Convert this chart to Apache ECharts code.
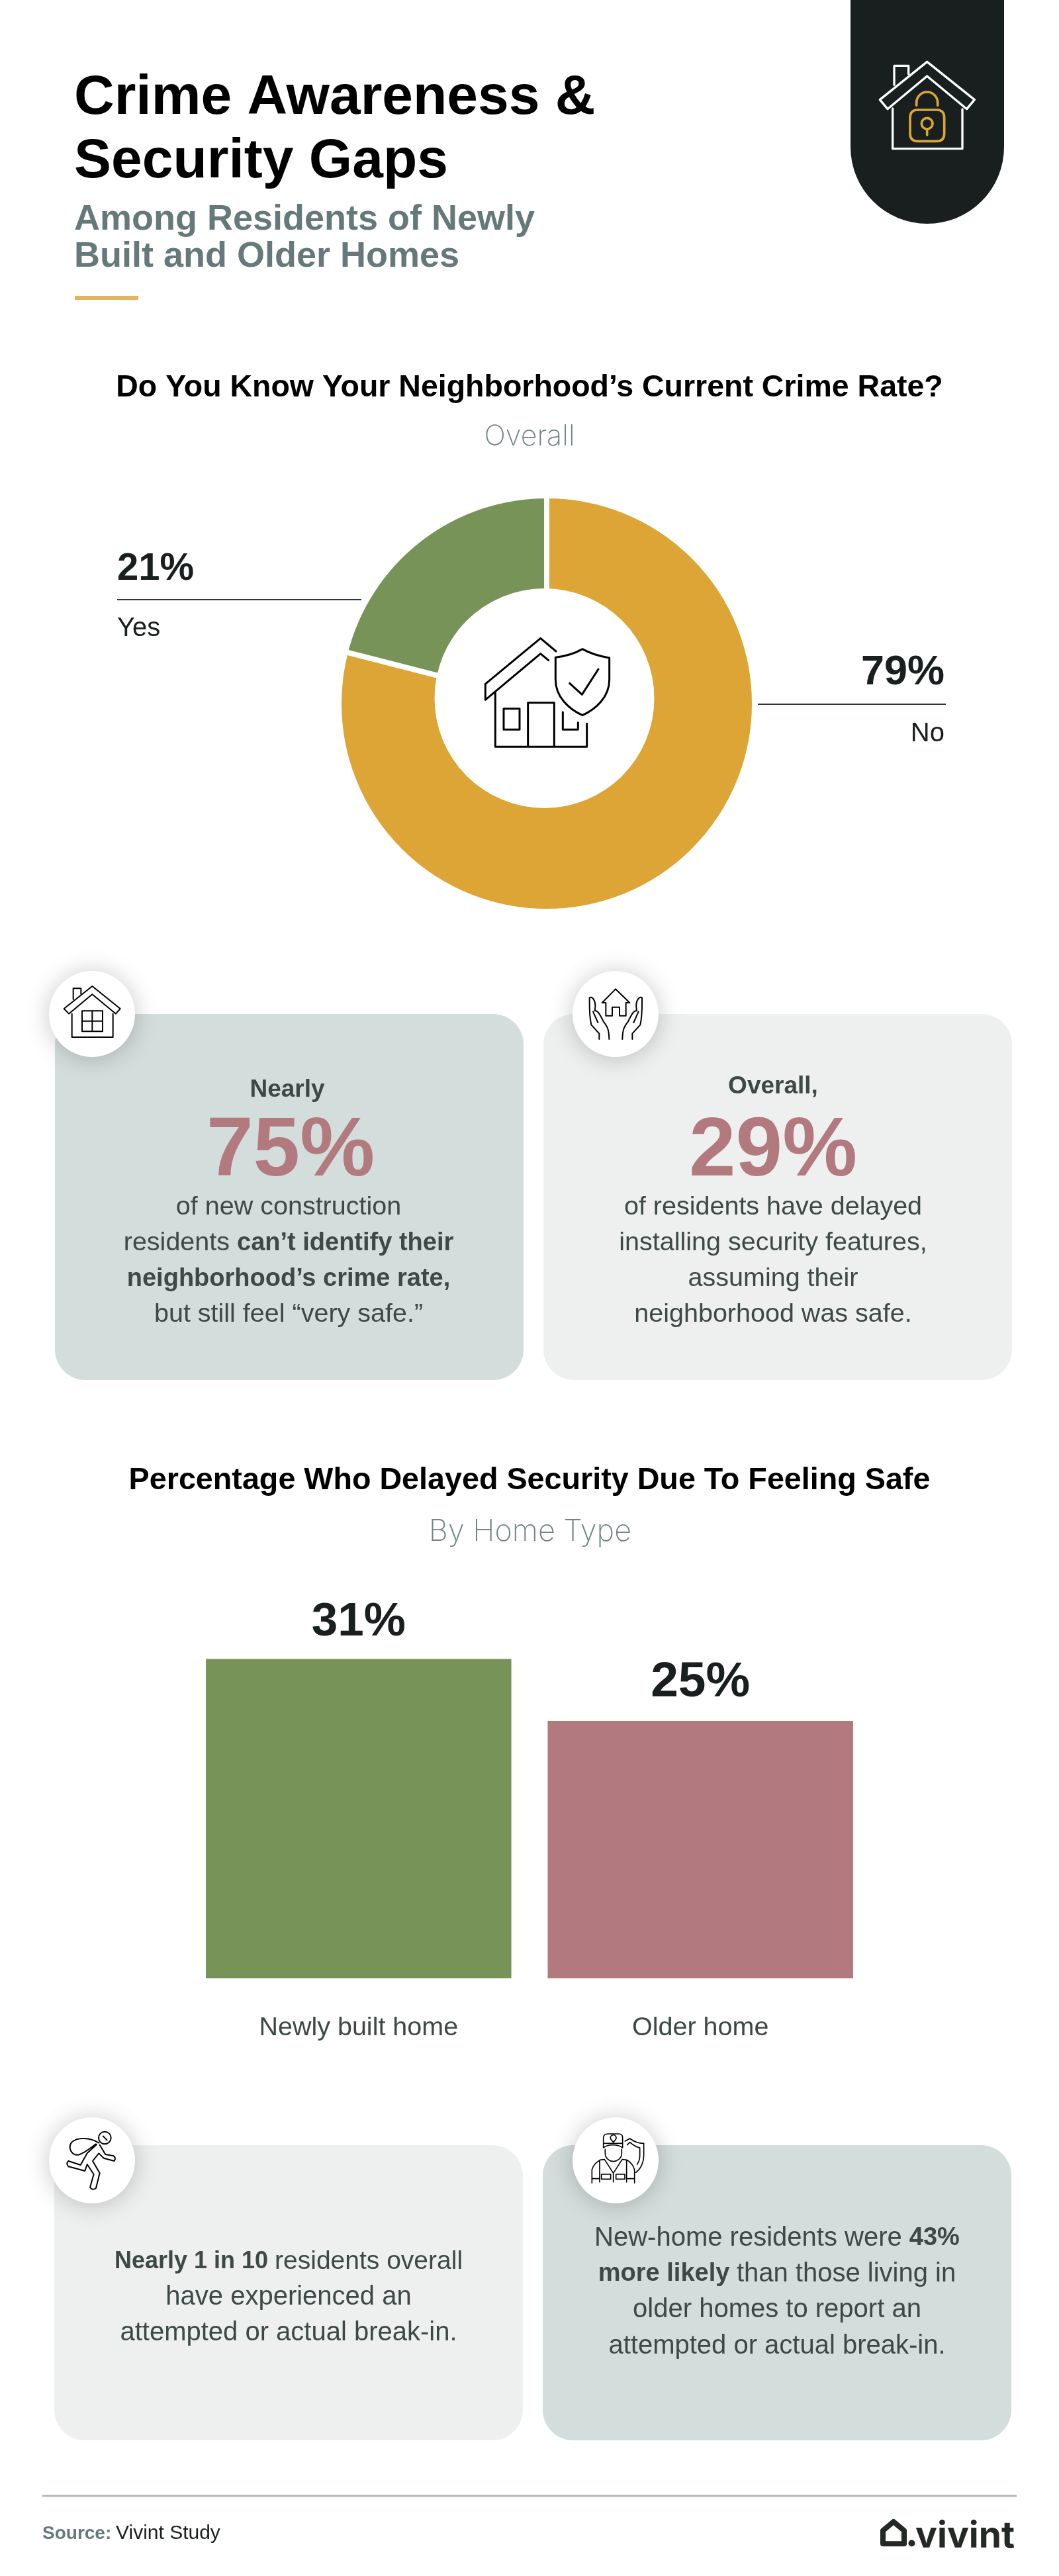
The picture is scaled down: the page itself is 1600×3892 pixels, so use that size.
<!DOCTYPE html>
<html>
<head>
<meta charset="utf-8">
<title>Crime Awareness & Security Gaps</title>
<script src="https://cdn.jsdelivr.net/npm/echarts@6/dist/echarts.min.js"></script>
<style>
html, body { margin: 0; padding: 0; background: #fff; }
#chart-container { width: 1600px; height: 3892px; }
</style>
</head>
<body>
<div id="chart-container"></div>
<script>
// chart data
const donutCategories = ['No', 'Yes'];
const donutValues = [79, 21];
const barCategories = ['Newly built home', 'Older home'];
const barValues = [31, 25];
const statValues = [75, 29];

const FONT = '"Liberation Sans", Arial, sans-serif';
const INK = '#181f1e';
const BODY = '#3c4947';
const SAGE = '#66797a';
const ROSE = '#b27a7e';
const GOLD = '#dca535';
const GREEN = '#779357';
const CARD_DARK = '#d3dddb';
const CARD_LIGHT = '#eef0ef';

// icons are traced in the 3x zoom coordinates, so they get scale 1/3
const icons = {
    lockHouse: 'M333,385V298H398V335M482,280L697,452L662,494L482,345L303,494L268,452ZM326,492V674H642V495',
    lock: 'M440,498H525Q560,498 560,533V605Q560,640 525,640H440Q405,640 405,605V533Q405,498 440,498ZM434,478V465A48,48 0 0 1 530,465V478M507,560A25,25 0 1 1 457,560A25,25 0 1 1 507,560ZM482,585V612',
    shieldHouse: 'M480,192L410,133L160,340V412L410,203L446,233M205,380V625H620V520M243,452H315V547H243ZM353,625V425H472V625M511,468V547H580V515M600,182C560,205 520,215 478,220V320C478,400 540,455 600,482C660,455 722,400 722,320V222C680,215 640,205 600,182ZM542,337L598,388L672,273',
    windowHouse: 'M152,180V130H187V155M238,120L365,222L345,245L238,157L132,245L110,222ZM146,245V351H332V245M192,232H285V325H192ZM238,232V325M192,278H285',
    hands: 'M240,133L304,195H287V254H258V215H225V254H196V195H179ZM166,360V335L130,295C120,250 122,210 122,172C135,165 150,185 148,215L146,232C160,228 170,250 185,280C205,305 210,320 211,360M138,235L160,285M316,360V335L352,295C362,250 360,210 360,172C347,165 332,185 334,215L336,232C322,228 312,250 297,280C277,305 272,320 271,360M344,235L322,285',
    thief: 'M323,180A28,28 0 1 1 267,180A28,28 0 1 1 323,180ZM287,172L305,190M268,203C230,178 170,175 145,200C125,225 145,260 175,257C205,250 230,225 255,208M272,212L298,255L335,262Q347,270 338,285L290,272L268,250L240,285L272,340L255,408Q240,420 228,405L245,345L215,300L205,330L130,310Q118,297 130,285L185,303L215,250L258,210',
    guard: 'M185,225V180Q185,162 205,162H255Q272,162 272,180V225C250,208 205,208 185,225ZM185,205H272M230,200L218,185A13,13 0 1 1 242,185ZM193,232V250C193,275 215,287 230,287C245,287 268,275 268,250V232M283,195L305,183C320,195 345,205 368,205V260C368,290 355,320 332,337M293,212L305,200C318,212 335,222 350,225V260C350,275 345,290 338,300M133,385V325C140,300 155,290 170,280L190,278L230,340L270,278L290,280C310,290 320,305 326,325V385M168,282V380M290,282V380M230,340V380M176,345H218V367H176ZM242,345H282V367H242ZM133,365H168M290,365H326',
    logoHouse: 'M162,310V250L210,210L258,250V310Z'
};
Object.keys(icons).forEach(function (name) {
    echarts.graphic.registerShape(name, echarts.graphic.extendPath(icons[name]));
});

function icon(name, ox, oy, color, lineWidth) {
    return {
        type: name,
        x: ox, y: oy, scaleX: 1 / 3, scaleY: 1 / 3, z: 20,
        style: { fill: null, stroke: color, lineWidth: lineWidth, lineCap: 'round', lineJoin: 'round' }
    };
}

// zrender centres a line on y, so move up from the baseline by a fraction of the size
const BASELINE_SHIFT = 0.275;

function label(text, x, baseline, size, weight, color, align, family) {
    return {
        type: 'text', x: x, y: baseline - size * BASELINE_SHIFT, z: 10,
        style: {
            text: text, fill: color, font: weight + ' ' + size + 'px ' + (family || FONT),
            align: align || 'center', verticalAlign: 'middle'
        }
    };
}

function richLabel(text, x, baseline, normalSize, boldSize, color) {
    return {
        type: 'text', x: x, y: baseline - normalSize * BASELINE_SHIFT, z: 10,
        style: {
            text: text, align: 'center', verticalAlign: 'middle',
            rich: {
                n: { fontFamily: FONT, fontSize: normalSize, fontWeight: 400, fill: color },
                b: { fontFamily: FONT, fontSize: boldSize, fontWeight: 700, fill: color }
            }
        }
    };
}

function card(x, y, width, height, color) {
    return { type: 'rect', shape: { x: x, y: y, width: width, height: height, r: 46 }, style: { fill: color }, z: 1 };
}

function badge(cx, cy) {
    return {
        type: 'circle', shape: { cx: cx, cy: cy, r: 65 }, z: 5,
        style: { fill: '#fff', shadowBlur: 36, shadowColor: 'rgba(0,0,0,0.22)', shadowOffsetY: 2 }
    };
}

const graphics = [
    // header
    label('Crime Awareness &', 112, 172, 84, 700, '#000', 'left'),
    label('Security Gaps', 112, 268, 84, 700, '#000', 'left'),
    label('Among Residents of Newly', 112, 347, 54, 700, SAGE, 'left'),
    label('Built and Older Homes', 112, 403, 54, 700, SAGE, 'left'),
    { type: 'rect', shape: { x: 113, y: 447, width: 96, height: 6 }, style: { fill: '#e3b45f' } },
    {
        type: 'rect', shape: { x: 1285, y: -120, width: 232, height: 458, r: [0, 0, 116, 116] },
        style: { fill: INK }
    },
    icon('lockHouse', 1240, 0, '#fff', 10),
    icon('lock', 1240, 0, GOLD, 11),

    // donut section, the hole in the reference sits a little above the ring's centre
    label('Do You Know Your Neighborhood\u2019s Current Crime Rate?', 800, 599, 46.5, 700, '#000'),
    label('Overall', 800, 672, 43, 200, '#6f8483', 'center', 'Inter'),
    label(donutValues[1] + '%', 177, 876, 58, 700, INK, 'left'),
    { type: 'line', shape: { x1: 177, y1: 906, x2: 546, y2: 906 }, style: { stroke: '#2c3635', lineWidth: 2 } },
    label(donutCategories[1], 177, 961, 40, 400, INK, 'left'),
    label(donutValues[0] + '%', 1427, 1034, 63, 700, INK, 'right'),
    { type: 'line', shape: { x1: 1145, y1: 1064, x2: 1429, y2: 1064 }, style: { stroke: '#2c3635', lineWidth: 2 } },
    label(donutCategories[0], 1427, 1120, 40, 400, INK, 'right'),
    { type: 'circle', shape: { cx: 822.5, cy: 1055, r: 166 }, style: { fill: '#fff' }, z: 5 },
    icon('shieldHouse', 680, 920, '#000', 9),

    // first pair of cards
    card(83, 1532, 708, 553, CARD_DARK),
    card(821, 1532, 708, 553, CARD_LIGHT),
    badge(139, 1532),
    badge(930, 1532),
    icon('windowHouse', 60, 1450, '#000', 6),
    icon('hands', 850, 1450, '#000', 6),
    label('Nearly', 434, 1657, 37, 700, BODY),
    label(statValues[0] + '%', 439, 1776, 127, 700, ROSE),
    label('of new construction', 436, 1835, 39.5, 400, BODY),
    richLabel('{n|residents }{b|can\u2019t identify their}', 436, 1889, 39.5, 38, BODY),
    label('neighborhood\u2019s crime rate,', 436, 1943, 38, 700, BODY),
    label('but still feel \u201cvery safe.\u201d', 436, 1997, 39.5, 400, BODY),
    label('Overall,', 1168, 1652, 37, 700, BODY),
    label(statValues[1] + '%', 1168, 1776, 127, 700, ROSE),
    label('of residents have delayed', 1168, 1835, 39.5, 400, BODY),
    label('installing security features,', 1168, 1889, 39.5, 400, BODY),
    label('assuming their', 1168, 1943, 39.5, 400, BODY),
    label('neighborhood was safe.', 1168, 1997, 39.5, 400, BODY),

    // bar section
    label('Percentage Who Delayed Security Due To Feeling Safe', 800, 2250, 46.7, 700, '#000'),
    label('By Home Type', 801, 2327, 45, 200, '#6f8483', 'center', 'Inter'),

    // second pair of cards
    card(82, 3241, 708, 446, CARD_LIGHT),
    card(820, 3241, 708, 446, CARD_DARK),
    badge(139, 3264),
    badge(930, 3264),
    icon('thief', 60, 3170, '#000', 6),
    icon('guard', 850, 3170, '#000', 5),
    richLabel('{b|Nearly 1 in 10 }{n|residents overall}', 436, 3428, 39, 36, BODY),
    label('have experienced an', 436, 3482, 40, 400, BODY),
    label('attempted or actual break-in.', 436, 3536, 40, 400, BODY),
    richLabel('{n|New-home residents were }{b|43%}', 1174, 3393, 40, 38, BODY),
    richLabel('{b|more likely }{n|than those living in}', 1174, 3447, 40, 38, BODY),
    label('older homes to report an', 1174, 3501, 40, 400, BODY),
    label('attempted or actual break-in.', 1174, 3556, 40, 400, BODY),

    // footer
    { type: 'line', shape: { x1: 64, y1: 3771, x2: 1536, y2: 3771 }, style: { stroke: '#aeb9b7', lineWidth: 3 } },
    label('Source:', 64, 3836, 28, 700, SAGE, 'left'),
    label('Vivint Study', 175, 3836, 30, 400, INK, 'left'),
    icon('logoHouse', 1280, 3740, '#232a25', 24),
    { type: 'circle', shape: { cx: 1377.5, cy: 3842.5, r: 5 }, style: { fill: '#232a25' }, z: 20 },
    label('vivint', 1383, 3848, 55, 700, '#232a25', 'left', 'Inter')
];

var dom = document.getElementById('chart-container');
var myChart = echarts.init(dom, null, { renderer: 'canvas', width: 1600, height: 3892 });

var option = {
    animation: false,
    backgroundColor: '#fff',
    graphic: graphics,
    grid: { left: 283.6, top: 2491, width: 1032.8, height: 498, containLabel: false },
    xAxis: {
        type: 'category',
        data: barCategories,
        axisLine: { show: false },
        axisTick: { show: false },
        axisLabel: { color: BODY, fontFamily: FONT, fontSize: 39.5, margin: 55 }
    },
    yAxis: { type: 'value', min: 0, max: 32, show: false },
    series: [
        {
            type: 'pie',
            center: [826, 1063],
            radius: [140, 314],
            startAngle: 90,
            clockwise: true,
            silent: true,
            itemStyle: { borderColor: '#fff', borderWidth: 8 },
            label: { show: false },
            labelLine: { show: false },
            data: [
                { value: donutValues[0], name: donutCategories[0], itemStyle: { color: GOLD } },
                { value: donutValues[1], name: donutCategories[1], itemStyle: { color: GREEN } }
            ]
        },
        {
            type: 'bar',
            barWidth: 461.5,
            silent: true,
            label: {
                show: true, position: 'top', distance: 20, formatter: '{c}%',
                color: INK, fontFamily: FONT, fontSize: 71, fontWeight: 700
            },
            data: [
                { value: barValues[0], itemStyle: { color: GREEN } },
                { value: barValues[1], itemStyle: { color: ROSE }, label: { fontSize: 75 } }
            ]
        }
    ]
};

myChart.setOption(option);
window.addEventListener('resize', myChart.resize);
</script>
</body>
</html>
